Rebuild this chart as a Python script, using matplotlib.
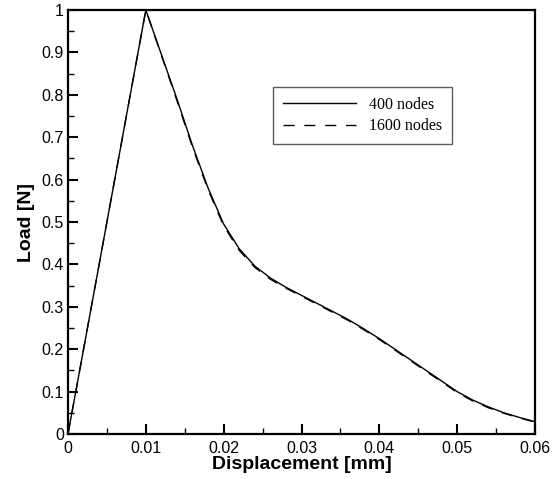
import numpy as np
import matplotlib
matplotlib.use('Agg')
import matplotlib.pyplot as plt
from matplotlib.ticker import MultipleLocator

# load-displacement data
disp = [0.0, 0.010, 0.012, 0.014, 0.016, 0.018, 0.020, 0.022, 0.024, 0.026,
        0.028, 0.030, 0.032, 0.034, 0.036, 0.038, 0.040, 0.042, 0.044, 0.046,
        0.048, 0.050, 0.052, 0.054, 0.056, 0.058, 0.060]
load400 = [0.0, 1.0, 0.895, 0.790, 0.680, 0.580, 0.495, 0.437, 0.396, 0.368,
           0.346, 0.327, 0.308, 0.289, 0.270, 0.248, 0.225, 0.200, 0.175, 0.150,
           0.125, 0.100, 0.080, 0.064, 0.050, 0.039, 0.029]
load1600 = [0.0, 1.0, 0.893, 0.786, 0.676, 0.576, 0.491, 0.433, 0.393, 0.365,
            0.344, 0.325, 0.306, 0.287, 0.268, 0.246, 0.223, 0.198, 0.173, 0.148,
            0.123, 0.098, 0.078, 0.062, 0.049, 0.038, 0.028]
labels = ['400 nodes', '1600 nodes']
xticklab = ['0', '0.01', '0.02', '0.03', '0.04', '0.05', '0.06']
yticklab = ['0', '0.1', '0.2', '0.3', '0.4', '0.5', '0.6', '0.7', '0.8', '0.9', '1']

fig = plt.figure(figsize=(5.6, 4.79), dpi=100)
ax = fig.add_axes([68/560, 1 - 434/479, (535-68)/560, (434-10)/479])

ax.plot(disp, load400, color='black', lw=1.0, label=labels[0])
ax.plot(disp, load1600, color='black', lw=1.0, dashes=(8, 7), label=labels[1])

ax.set_xlim(0, 0.06)
ax.set_ylim(0, 1)
ax.set_xticks(np.arange(0, 0.061, 0.01))
ax.set_xticklabels(xticklab)
ax.set_yticks(np.arange(0, 1.01, 0.1))
ax.set_yticklabels(yticklab)
ax.xaxis.set_minor_locator(MultipleLocator(0.005))
ax.yaxis.set_minor_locator(MultipleLocator(0.05))

for sp in ax.spines.values():
    sp.set_linewidth(1.6)
ax.tick_params(which='major', direction='in', length=7, width=1.5,
               labelsize=11.5, pad=3, top=False, right=False)
ax.tick_params(axis='x', which='major', pad=5)
ax.tick_params(which='minor', direction='in', length=4.5, width=1.0,
               top=False, right=False)
for t in ax.get_xticklabels() + ax.get_yticklabels():
    t.set_family('Liberation Sans')

ax.set_xlabel('Displacement [mm]', family='Liberation Sans', fontweight='bold',
              fontsize=14, labelpad=0)
ax.set_ylabel('Load [N]', family='Liberation Sans', fontweight='bold',
              fontsize=14, labelpad=5)

leg = ax.legend(loc='upper left', bbox_to_anchor=(0.439, 0.818), borderaxespad=0,
                frameon=True, fancybox=False, handlelength=4.6, handletextpad=0.8,
                labelspacing=0.35, borderpad=0.6,
                prop={'family': 'Liberation Serif', 'size': 11.5})
leg.get_frame().set_edgecolor('#333333')
leg.get_frame().set_linewidth(1.0)

fig.savefig('out.png', dpi=100)
